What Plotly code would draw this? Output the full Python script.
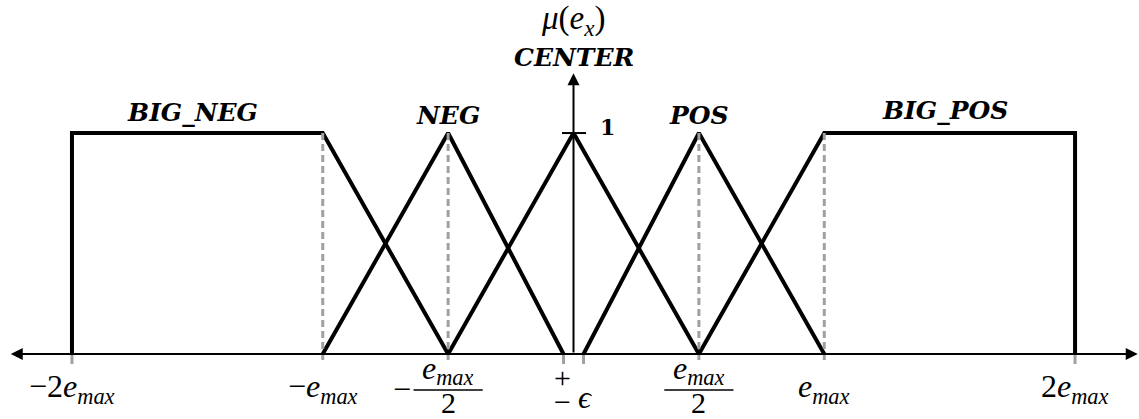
import plotly.graph_objects as go

# Membership functions in units of e_max
EPS = 0.04
sets = {
    "BIG_NEG": ([-2, -2, -1, -0.5], [0, 1, 1, 0]),
    "NEG": ([-1, -0.5, -EPS], [0, 1, 0]),
    "CENTER": ([-0.5, 0, 0.5], [0, 1, 0]),
    "POS": ([EPS, 0.5, 1], [0, 1, 0]),
    "BIG_POS": ([0.5, 1, 2, 2], [0, 1, 1, 0]),
}
set_label_names = ["BIG_NEG", "NEG", "POS", "BIG_POS"]
set_label_x = [-1.52, -0.5, 0.5, 1.48]
set_label_y = [1.095, 1.08, 1.08, 1.1]

guide_x = [-1, -0.5, 0.5, 1]          # dashed guides up to the peaks
short_tick_x = [-2, -EPS, EPS, 2]     # short gray ticks below the axis

X_MIN, X_MAX = -2.287, 2.255
Y_MIN, Y_MAX = -0.294, 1.602
TICK_LEN = 0.045

SERIF = "Liberation Serif"
BOLD_SERIF = "DejaVu Serif"
BLACK = "#000000"
GRAY = "#a0a0a0"

fig = go.Figure()

for name, (xs, ys) in sets.items():
    fig.add_trace(go.Scatter(x=xs, y=ys, mode="lines", name=name,
                             line=dict(color=BLACK, width=4),
                             hoverinfo="skip", showlegend=False))

# dashed guides
for gx in guide_x:
    fig.add_trace(go.Scatter(x=[gx, gx], y=[1, -TICK_LEN], mode="lines",
                             line=dict(color=GRAY, width=3, dash="7px,4px"),
                             hoverinfo="skip", showlegend=False))
for gx in short_tick_x:
    fig.add_trace(go.Scatter(x=[gx, gx], y=[0, -TICK_LEN], mode="lines",
                             line=dict(color=GRAY, width=3),
                             hoverinfo="skip", showlegend=False))

annotations = []

# axes with arrowheads
annotations.append(dict(x=2.25, y=0, ax=-2.25, ay=0, xref="x", yref="y",
                        axref="x", ayref="y", showarrow=True, arrowhead=2,
                        arrowside="end+start", arrowsize=1.2, arrowwidth=2,
                        arrowcolor=BLACK, text=""))
annotations.append(dict(x=0, y=1.27, ax=0, ay=0, xref="x", yref="y",
                        axref="x", ayref="y", showarrow=True, arrowhead=2,
                        arrowsize=1.2, arrowwidth=2, arrowcolor=BLACK, text=""))

# tick "1" on the membership axis
fig.add_shape(type="line", x0=-0.046, x1=0.05, y0=1, y1=1,
              line=dict(color=BLACK, width=2))
annotations.append(dict(x=0.134, y=1.027, text="<b>1</b>", showarrow=False,
                        font=dict(family=BOLD_SERIF, size=22, color=BLACK)))

# axis title and set names
annotations.append(dict(x=0, y=1.51,
                        text="<i>μ</i>(<i>e</i><sub><i>x</i></sub>)",
                        showarrow=False,
                        font=dict(family=SERIF, size=33, color=BLACK)))
name_font = dict(family=BOLD_SERIF, size=25, color=BLACK)
annotations.append(dict(x=0, y=1.344, text="<b><i>CENTER</i></b>",
                        showarrow=False, font=name_font))
for lx, ly, nm in zip(set_label_x, set_label_y, set_label_names):
    annotations.append(dict(x=lx, y=ly, text=f"<b><i>{nm}</i></b>",
                            showarrow=False, font=name_font))

# x tick labels
EMAX = "<i>e</i><sub><i>max</i></sub>"
tick_font = dict(family=SERIF, size=32, color=BLACK)
small_font = dict(family=SERIF, size=30, color=BLACK)
for tx, txt in [(-2, "−2" + EMAX), (-1, "−" + EMAX), (1.0, EMAX), (2, "2" + EMAX)]:
    annotations.append(dict(x=tx, y=-0.154, text=txt, showarrow=False,
                            font=tick_font))

# fractions e_max / 2
for fx in (-0.5, 0.5):
    annotations.append(dict(x=fx, y=-0.072, text=EMAX, showarrow=False,
                            font=tick_font, height=36, borderpad=0))
    annotations.append(dict(x=fx, y=-0.217, text="2", showarrow=False,
                            font=small_font, height=24, borderpad=0))
    fig.add_shape(type="line", x0=fx - 0.138, x1=fx + 0.138,
                  y0=-0.163, y1=-0.163, line=dict(color=BLACK, width=1.5))
annotations.append(dict(x=-0.684, y=-0.16, text="−", showarrow=False,
                        font=tick_font, height=20, borderpad=0))

# ±epsilon
annotations.append(dict(x=-0.042, y=-0.104, text="+", showarrow=False,
                        font=small_font, height=20, borderpad=0))
annotations.append(dict(x=-0.042, y=-0.212, text="−", showarrow=False,
                        font=small_font, height=20, borderpad=0))
annotations.append(dict(x=0.044, y=-0.195, text="<i>ϵ</i>", showarrow=False,
                        font=tick_font, height=24, borderpad=0))

fig.update_layout(
    width=1139, height=419,
    margin=dict(l=0, r=0, t=0, b=0),
    paper_bgcolor="white", plot_bgcolor="white",
    xaxis=dict(range=[X_MIN, X_MAX], visible=False, fixedrange=True),
    yaxis=dict(range=[Y_MIN, Y_MAX], visible=False, fixedrange=True),
    annotations=annotations,
    showlegend=False,
)

fig.write_html("out.html")
